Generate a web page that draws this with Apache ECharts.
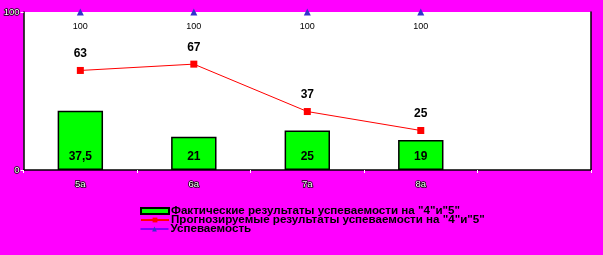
<!DOCTYPE html>
<html><head><meta charset="utf-8">
<script src="https://cdn.jsdelivr.net/npm/echarts@6/dist/echarts.min.js"></script>
<style>html,body{margin:0;padding:0;background:#ff00ff;}#c{width:603px;height:255px;}</style>
</head><body><div id="c"></div>
<script>
const categories = ['5а', '6а', '7а', '8а', ''];
const factValues = [37.5, 21, 25, 19, null];
const forecastValues = [63, 67, 37, 25, null];
const progressValues = [100, 100, 100, 100, null];
const seriesNames = ['Фактические результаты успеваемости на "4"и"5"', 'Прогнозируемые результаты успеваемости на "4"и"5"', 'Успеваемость'];

const chart = echarts.init(document.getElementById('c'));
const whiteLabel = {color: '#fff', fontSize: 9.5, fontFamily: 'Liberation Sans, Arial', textBorderColor: '#000', textBorderWidth: 1.5};
const legendText = {fontSize: 11.6, fontWeight: 'bold', color: '#000', fontFamily: 'Liberation Sans, Arial', textShadowColor: '#888', textShadowOffsetX: 1, textShadowOffsetY: 1, textShadowBlur: 0, padding: [0,0,0,-3]};
const legendRows = [
  {name: seriesNames[0], icon: 'rect'},
  {name: seriesNames[1]},
  {name: seriesNames[2], lineStyle: {color: '#0000ff', width: 1, opacity: 1}}
];
chart.setOption({
  backgroundColor: '#ff00ff',
  animation: false,
  grid: {left: 23, right: 12, top: 12, bottom: 85, show: true, backgroundColor: '#fff', borderWidth: 0},
  legend: legendRows.map((d, i) => ({
    orient: 'vertical', left: 135, top: 200 + i * 9, itemWidth: 28, itemHeight: 6,
    textStyle: legendText, data: [d]
  })),
  xAxis: {
    type: 'category', data: categories, boundaryGap: true,
    axisLine: {lineStyle: {color: '#000', width: 1.5}},
    axisTick: {show: true, lineStyle: {color: '#fff'}, length: 3},
    axisLabel: Object.assign({margin: 9}, whiteLabel)
  },
  yAxis: [{
    type: 'value', min: 0, max: 100, interval: 100,
    axisLine: {show: true, lineStyle: {color: '#000', width: 1.5}},
    axisTick: {show: true, lineStyle: {color: '#fff'}, length: 3},
    splitLine: {show: false},
    axisLabel: Object.assign({margin: 4}, whiteLabel)
  }, {
    type: 'value', min: 0, max: 100, interval: 100, position: 'right',
    axisLine: {show: true, lineStyle: {color: '#000', width: 1.5}},
    axisTick: {show: false}, axisLabel: {show: false}, splitLine: {show: false}
  }],
  series: [
    {
      name: seriesNames[0], type: 'bar', data: factValues, barWidth: '40%',
      itemStyle: {color: '#00ff00', borderColor: '#000', borderWidth: 1.5},
      label: {show: true, position: 'insideBottom', distance: 7, fontSize: 12, fontWeight: 'bold', color: '#000', fontFamily: 'Liberation Sans, Arial',
        formatter: p => String(p.value).replace('.', ',')}
    },
    {
      name: seriesNames[1], type: 'line', data: forecastValues, symbol: 'rect', symbolSize: 7,
      lineStyle: {color: '#ff0000', width: 1}, itemStyle: {color: '#ff0000'},
      label: {show: true, position: 'top', distance: 7, fontSize: 12, fontWeight: 'bold', color: '#000', fontFamily: 'Liberation Sans, Arial'}
    },
    {
      name: seriesNames[2], type: 'line', data: progressValues, symbol: 'triangle', symbolSize: 7,
      lineStyle: {color: '#0000ff', width: 1, opacity: 0}, itemStyle: {color: '#3333cc'},
      label: {show: true, position: 'bottom', distance: 7, fontSize: 9, color: '#000', fontFamily: 'Liberation Sans, Arial'}
    }
  ]
});
</script></body></html>
